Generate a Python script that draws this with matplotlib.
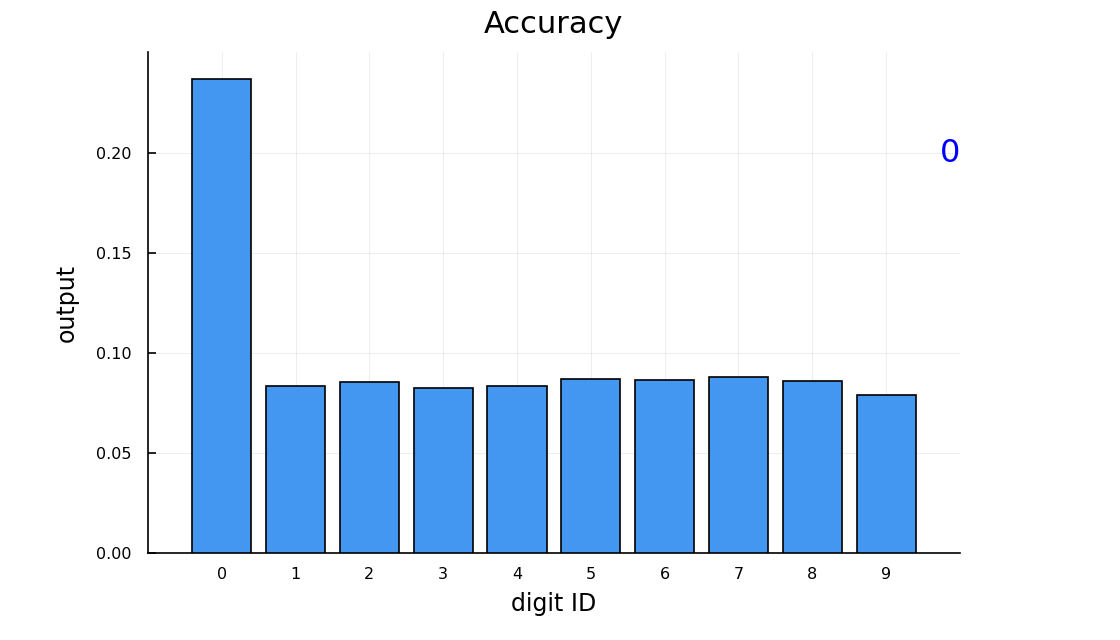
import numpy as np
import matplotlib.pyplot as plt

digits = [0, 1, 2, 3, 4, 5, 6, 7, 8, 9]
outputs = [0.237, 0.0835, 0.0855, 0.0825, 0.0835, 0.087, 0.0865, 0.088, 0.086, 0.079]
y_ticks = [0.00, 0.05, 0.10, 0.15, 0.20]
y_tick_labels = ["0.00", "0.05", "0.10", "0.15", "0.20"]
note_text = "0"
note_pos = (9.87, 0.20)

fig = plt.figure(figsize=(11.2, 6.4), dpi=100)
ax = fig.add_axes([0.1321, 0.1359, 0.857 - 0.1321, 0.91875 - 0.1359])

ax.bar(digits, outputs, width=0.8, color="#4497f1", edgecolor="black", linewidth=1.2, zorder=3)

ax.set_xlim(-1, 10)
ax.set_ylim(0, 0.2505)
ax.set_xticks(digits)
ax.set_xticklabels([str(d) for d in digits])
ax.set_yticks(y_ticks)
ax.set_yticklabels(y_tick_labels)

ax.grid(True, color="black", alpha=0.08, linewidth=0.6, zorder=0)
for side in ["top", "right"]:
    ax.spines[side].set_visible(False)
for side in ["left", "bottom"]:
    ax.spines[side].set_linewidth(1.2)

ax.tick_params(axis="y", direction="in", length=6, width=1.2, labelsize=11.5, pad=12)
ax.tick_params(axis="x", length=0, labelsize=11.5, pad=10)

ax.set_xlabel("digit ID", fontsize=17, labelpad=7)
ax.set_ylabel("output", fontsize=17, labelpad=12)
ax.set_title("Accuracy", fontsize=22, pad=14)

ax.text(note_pos[0], note_pos[1], note_text, color="blue", fontsize=23,
        ha="center", va="center", zorder=4)

fig.savefig("out.png", dpi=100)
